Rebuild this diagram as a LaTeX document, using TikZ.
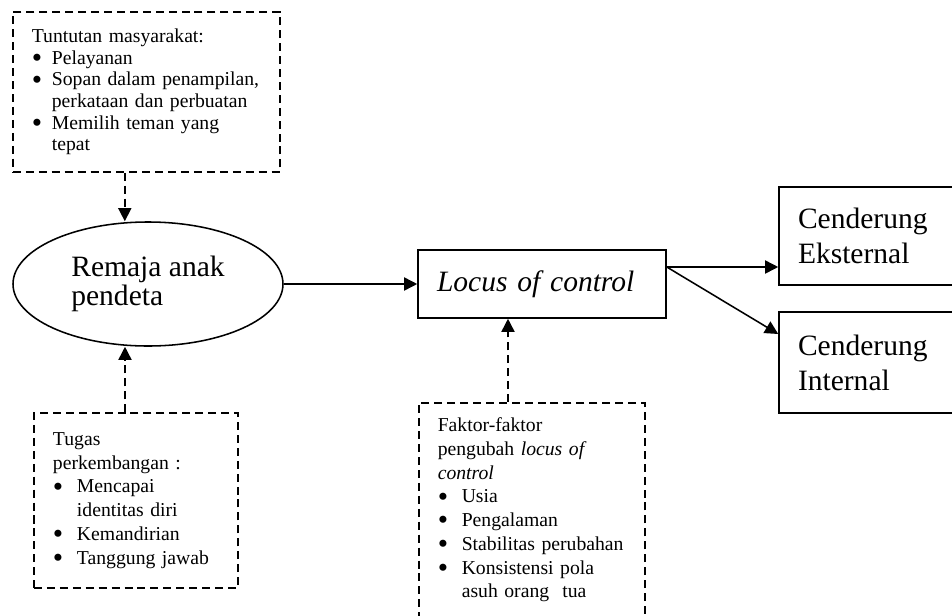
\documentclass[tikz,border=0pt]{standalone}
\usepackage{fontspec}
\setmainfont{Liberation Serif}
\usepackage{graphicx}
\usepackage{xcolor}
\usepackage{tikz}
\usetikzlibrary{shapes.geometric,arrows.meta,positioning}

\newcommand{\ketfont}{\fontsize{14}{16.9}\selectfont}
\newcommand{\utamafont}{\fontsize{21}{21}\selectfont}
\newcommand{\bul}[1][0.6cm]{\makebox[#1][l]{\raisebox{-2.3pt}{\scalebox{1.5}{\textbullet}}}}
\newcommand{\lanjut}[1][0.6cm]{\hspace*{#1}}

\begin{document}
\begin{tikzpicture}[node distance=5cm, line width=1.1pt, >={Triangle[length=0.33cm,width=0.33cm]},
  putus/.style={dash pattern=on 5.7pt off 3.5pt},
  kotakket/.style={rectangle, draw=black, putus, align=left, font=\ketfont, inner xsep=0.475cm, inner ysep=0.375cm},
  kotakutama/.style={rectangle, draw=black, align=left, font=\utamafont, inner xsep=0.475cm}]
\useasboundingbox (0,0) rectangle (23.8,-15.375);

\node (remaja) [ellipse, draw=black, minimum width=6.75cm, minimum height=3.1cm, inner sep=0pt, align=left, font=\utamafont] at (3.70,-7.10) {Remaja anak\\pendeta};

\node (tuntutan) [kotakket, text width=5.725cm, minimum height=4cm, font=\fontsize{14}{15.4}\selectfont, above of=remaja, xshift=-0.04cm, yshift=-0.2cm] {Tuntutan masyarakat:\\\bul[0.5cm]Pelayanan\\\bul[0.5cm]\mbox{Sopan dalam penampilan,}\\\lanjut[0.5cm]perkataan dan perbuatan\\\bul[0.5cm]Memilih teman yang\\\lanjut[0.5cm]tepat};
\node (tugas) [kotakket, text width=4.15cm, minimum height=4.375cm, below of=remaja, xshift=-0.3cm, yshift=-0.4125cm] {Tugas\\perkembangan :\\\bul Mencapai\\\lanjut identitas diri\\\bul Kemandirian\\\bul Tanggung jawab};

\node (locus) [kotakutama, text width=5.25cm, minimum height=1.7cm, font=\utamafont\itshape, right of=remaja, xshift=4.85cm] {Locus of control};
\node (faktor) [kotakket, text width=4.7cm, text depth=5cm, below of=locus, anchor=north west, xshift=-3.1cm, yshift=2.05cm] {Faktor-faktor\\pengubah \textit{locus of}\\\textit{control}\\\bul Usia\\\bul Pengalaman\\\bul Stabilitas perubahan\\\bul Konsistensi pola\\\lanjut asuh orang\ \ tua};

\node (eksternal) [kotakutama, text width=4.325cm, minimum height=2.45cm, font=\fontsize{21}{25}\selectfont, right of=locus, xshift=3.5625cm, yshift=1.2cm] {Cenderung\\Eksternal};
\node (internal) [kotakutama, text width=4.325cm, minimum height=2.525cm, font=\fontsize{21}{25}\selectfont, below of=eksternal, yshift=1.8375cm] {Cenderung\\Internal};

\draw[putus,->] ([xshift=-0.54cm]tuntutan.south) -- ([xshift=-0.54cm]tuntutan.south |- remaja.north);
\draw[putus,->] ([xshift=-0.275cm]tugas.north) -- ([xshift=-0.275cm]tugas.north |- remaja.south);
\draw[putus,->] ([xshift=-0.85cm]locus.south |- faktor.north) -- ([xshift=-0.85cm]locus.south);
\draw[->] (remaja) -- (locus);
\draw[->] ([yshift=0.425cm]locus.east) -- ([yshift=0.425cm]locus.east -| eksternal.west);
\draw[->] ([yshift=0.425cm]locus.east) -- ([yshift=0.7125cm]internal.west);

\end{tikzpicture}
\end{document}
